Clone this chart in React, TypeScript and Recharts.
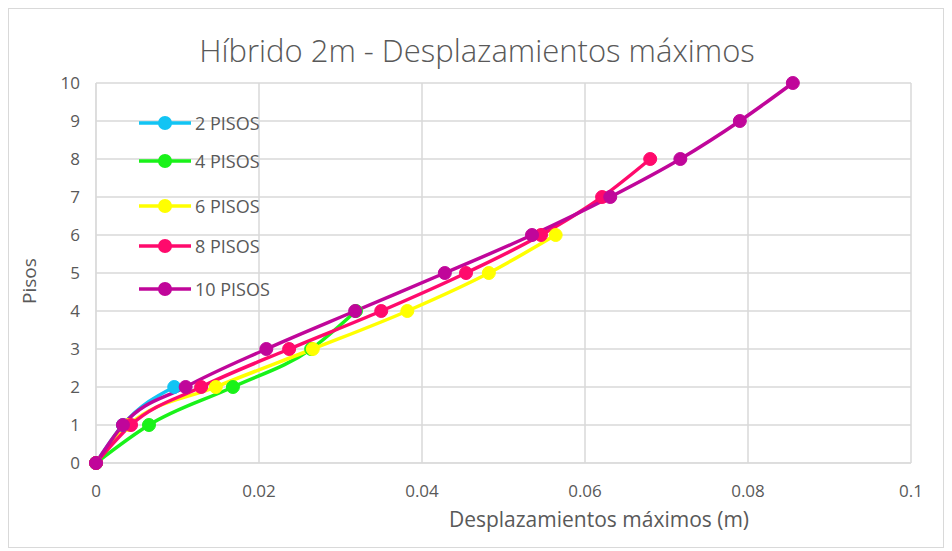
import React from 'react';
import { LineChart, Line, XAxis, YAxis, CartesianGrid } from 'recharts';

const pisos2 = [
  { x: 0, y: 0 }, { x: 0.0033, y: 1 }, { x: 0.0096, y: 2 },
];
const pisos4 = [
  { x: 0, y: 0 }, { x: 0.0065, y: 1 }, { x: 0.0168, y: 2 }, { x: 0.0264, y: 3 }, { x: 0.0319, y: 4 },
];
const pisos6 = [
  { x: 0, y: 0 }, { x: 0.004, y: 1 }, { x: 0.0147, y: 2 }, { x: 0.0266, y: 3 }, { x: 0.0382, y: 4 },
  { x: 0.0482, y: 5 }, { x: 0.0564, y: 6 },
];
const pisos8 = [
  { x: 0, y: 0 }, { x: 0.0043, y: 1 }, { x: 0.0129, y: 2 }, { x: 0.0237, y: 3 }, { x: 0.035, y: 4 },
  { x: 0.0454, y: 5 }, { x: 0.0546, y: 6 }, { x: 0.0621, y: 7 }, { x: 0.068, y: 8 },
];
const pisos10 = [
  { x: 0, y: 0 }, { x: 0.0033, y: 1 }, { x: 0.011, y: 2 }, { x: 0.0209, y: 3 }, { x: 0.0318, y: 4 },
  { x: 0.0428, y: 5 }, { x: 0.0535, y: 6 }, { x: 0.0631, y: 7 }, { x: 0.0717, y: 8 },
  { x: 0.079, y: 9 }, { x: 0.0855, y: 10 },
];

const xTicks = [0, 0.02, 0.04, 0.06, 0.08, 0.1];
const yTicks = [0, 1, 2, 3, 4, 5, 6, 7, 8, 9, 10];

const series = [
  { name: '2 PISOS', data: pisos2, color: '#12c4f4' },
  { name: '4 PISOS', data: pisos4, color: '#19f219' },
  { name: '6 PISOS', data: pisos6, color: '#ffff00' },
  { name: '8 PISOS', data: pisos8, color: '#ff0a6c' },
  { name: '10 PISOS', data: pisos10, color: '#c0069a' },
];

const legendY = [122, 160, 205, 245, 288];
const FONT = '"Open Sans", sans-serif';
const GRAY = '#595959';

export default function App() {
  return (
    <div style={{ position: 'relative', width: 936, height: 540, fontFamily: FONT, border: '1px solid #d9d9d9', boxSizing: 'border-box', background: '#fff' }}>
      <div style={{ position: 'absolute', top: 20, left: 0, width: 936, textAlign: 'center', fontSize: 31, color: GRAY, fontWeight: 300 }}>
        Híbrido 2m - Desplazamientos máximos
      </div>
      <LineChart width={936} height={540} margin={{ top: 74, right: 34, left: 47, bottom: 56 }}>
        <CartesianGrid stroke="#d9d9d9" strokeWidth={1.5} />
        <XAxis
          type="number"
          dataKey="x"
          domain={[0, 0.1]}
          ticks={xTicks}
          tickFormatter={(v: number) => String(v)}
          axisLine={{ stroke: '#d9d9d9' }}
          tickLine={false}
          tick={{ fill: GRAY, fontSize: 17, fontFamily: FONT, dy: 14 }}
          height={30}
          allowDuplicatedCategory={false}
        />
        <YAxis
          type="number"
          dataKey="y"
          domain={[0, 10]}
          ticks={yTicks}
          axisLine={{ stroke: '#d9d9d9' }}
          tickLine={false}
          tick={{ fill: GRAY, fontSize: 17, fontFamily: FONT, dx: -8 }}
          width={40}
        />
        {series.map((s) => (
          <Line
            key={s.name}
            data={s.data}
            dataKey="y"
            name={s.name}
            type="monotone"
            stroke={s.color}
            strokeWidth={3.5}
            dot={{ r: 6.5, fill: s.color, stroke: s.color, strokeWidth: 1 }}
            isAnimationActive={false}
          />
        ))}
      </LineChart>
      <div style={{ position: 'absolute', left: 0, top: 262, width: 40, transform: 'rotate(-90deg)', fontSize: 19, color: GRAY, textAlign: 'center' }}>
        Pisos
      </div>
      <div style={{ position: 'absolute', left: 420, top: 496, width: 340, textAlign: 'center', fontSize: 21, color: GRAY }}>
        Desplazamientos máximos (m)
      </div>
      {series.map((s, i) => (
        <div key={s.name} style={{ position: 'absolute', left: 128, top: legendY[i] - 8 - 12, display: 'flex', alignItems: 'center', height: 24 }}>
          <svg width={56} height={24}>
            <line x1={2} y1={12} x2={54} y2={12} stroke={s.color} strokeWidth={3.5} />
            <circle cx={28} cy={12} r={7} fill={s.color} />
          </svg>
          <span style={{ fontSize: 18, color: GRAY, marginLeft: 2 }}>{s.name}</span>
        </div>
      ))}
    </div>
  );
}
